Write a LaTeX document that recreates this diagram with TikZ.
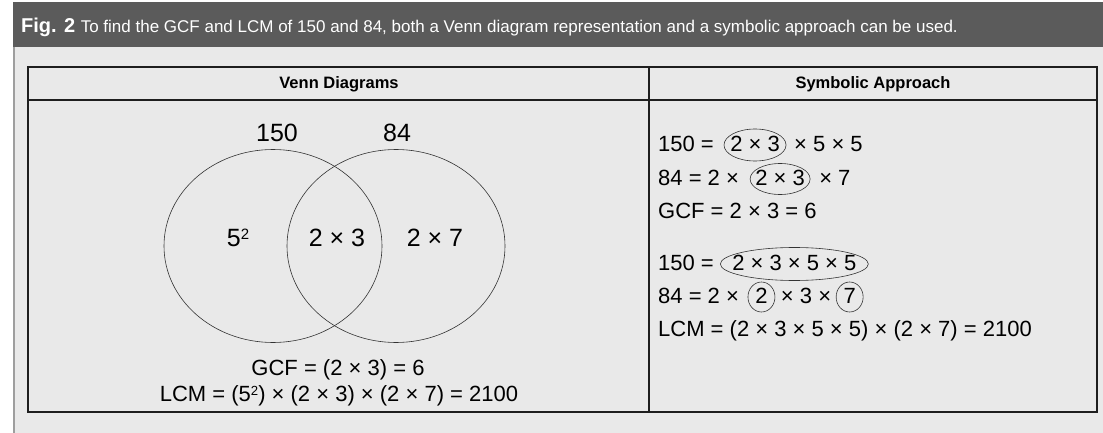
\documentclass[tikz,border=0pt]{standalone}
\usepackage{fontspec}
\setmainfont{Liberation Sans}
\usetikzlibrary{positioning, shapes.geometric}

\definecolor{barGray}{HTML}{5B5B5B}
\definecolor{panelGray}{HTML}{E9E9E9}
\definecolor{ruleGray}{HTML}{9E9E9E}
\definecolor{lineDark}{HTML}{1E1E1E}

% small raised 2 for squares
\newcommand{\sqmark}{\raisebox{0.29em}{\scalebox{0.6}{2}}}

\begin{document}
\begin{tikzpicture}[
  x=1pt, y=-1pt,
  head/.style = {font=\fontsize{16.5}{20}\selectfont\bfseries, inner sep=0pt},
  vset/.style = {ellipse, draw=black!80, line width=0.6pt, minimum width=218pt, minimum height=193pt},
  vlabel/.style = {font=\fontsize{25}{30}\selectfont, inner sep=0pt},
  result/.style = {font=\fontsize{22}{26}\selectfont, inner sep=0pt},
  eqn/.style = {font=\fontsize{22}{26}\selectfont, inner sep=0pt, text height=16pt, text depth=4pt},
  ring/.style = {draw=black!80, line width=0.6pt}
]

% page, caption bar and panel
\useasboundingbox (0,0) rectangle (1103,433);
\fill[white] (0,0) rectangle (1103,433);
\fill[panelGray] (13,47.5) rectangle (1103,433);
\fill[barGray] (13,2.5) rectangle (1103,47.5);
\draw[ruleGray, line width=1.5pt] (13.75,47.5) -- (13.75,433);

\node[anchor=base west, text=white, inner sep=0pt] (caption) at (21,33)
  {\fontsize{20}{24}\selectfont\bfseries Fig. 2\ \fontsize{17}{20}\selectfont\mdseries To find the GCF and LCM of 150 and 84, both a Venn diagram representation and a symbolic approach can be used.};

% table frame
\draw[lineDark, line width=1.2pt] (28,67) rectangle (1097,412);
\draw[lineDark, line width=1.2pt] (28,100) -- (1097,100);
\draw[lineDark, line width=1.2pt] (649,67) -- (649,412);
\draw[lineDark, line width=2pt] (28,412) -- (1097,412);

\node[head] (vennHead) at (339,84) {Venn Diagrams};
\node[head] (symHead) at (873,84) {Symbolic Approach};

% Venn diagram
\node[vset] (set150) at (273,246) {};
\node[vset] (set84) at (396,246) {};

\node[vlabel] (lab150) at (277,133) {150};
\node[vlabel] (lab84) at (397,133) {84};
\node[vlabel] (only150) at (238,238) {5\sqmark};
\node[vlabel] (both) at (337,238) {2 × 3};
\node[vlabel] (only84) at (435,238) {2 × 7};

\node[result] (vennGcf) at (338,370) {GCF = (2 × 3) = 6};
\node[result] (vennLcm) at (339,396) {LCM = (5\sqmark) × (2 × 3) × (2 × 7) = 2100};

% Symbolic approach: GCF
\node[eqn, anchor=west] (r1a) at (658,145) {150 =};
\node[eqn, right=16pt of r1a] (r1b) {2 × 3};
\node[eqn, right=14pt of r1b] (r1c) {× 5 × 5};
\draw[ring] (r1b.center) ellipse [x radius=31pt, y radius=16pt];

\node[eqn, anchor=west] (r2a) at (658,179) {84 = 2 ×};
\node[eqn, right=16pt of r2a] (r2b) {2 × 3};
\node[eqn, right=14pt of r2b] (r2c) {× 7};
\draw[ring] (r2b.center) ellipse [x radius=30pt, y radius=15.5pt];

\node[eqn, anchor=west] (r3a) at (658,212) {GCF = 2 × 3 = 6};

% Symbolic approach: LCM
\node[eqn, anchor=west] (r4a) at (658,264) {150 =};
\node[eqn, right=18pt of r4a] (r4b) {2 × 3 × 5 × 5};
\draw[ring] (r4b.center) ellipse [x radius=74pt, y radius=16.5pt];

\node[eqn, anchor=west] (r5a) at (658,297) {84 = 2 ×};
\node[eqn, right=16pt of r5a] (r5b) {2};
\node[eqn, right=13pt of r5b] (r5c) {× 3 ×};
\node[eqn, right=12pt of r5c] (r5d) {7};
\draw[ring] (r5b.center) ellipse [x radius=13.5pt, y radius=15pt];
\draw[ring] (r5d.center) ellipse [x radius=13.5pt, y radius=15pt];

\node[eqn, anchor=west] (r6a) at (658,330) {LCM = (2 × 3 × 5 × 5) × (2 × 7) = 2100};
\end{tikzpicture}
\end{document}
